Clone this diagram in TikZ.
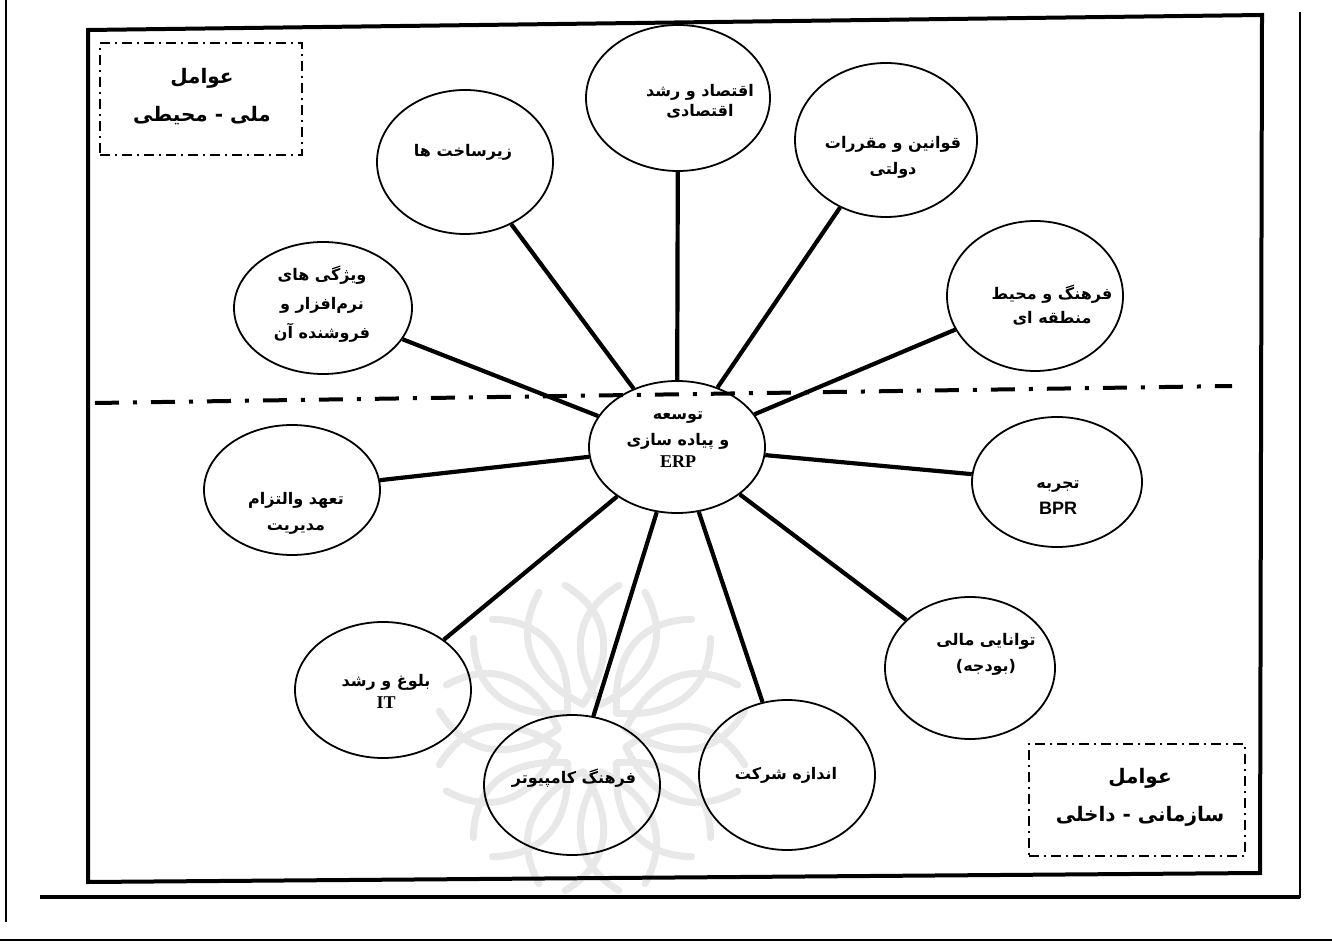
\documentclass[tikz,border=0pt]{standalone}
\usepackage{fontspec}
\setmainfont{Liberation Serif}
\newfontfamily\ar[Script=Arabic]{DejaVu Sans}
\newfontfamily\lsans{Liberation Sans}
\TeXXeTstate=1
\usetikzlibrary{shapes.geometric,calc}
\newcommand{\rl}[1]{\beginR #1\endR}
\tikzset{
  circ/.style={ellipse, draw, line width=0.9pt, inner sep=0pt},
  conn/.style={line width=2.1pt},
  txt/.style={font=\ar\bfseries\fontsize{8}{13}\selectfont, align=center, inner sep=0pt},
  head/.style={font=\ar\bfseries\fontsize{10}{19}\selectfont, align=center, inner sep=0pt},
  ddbox/.style={draw, line width=0.7pt, dash pattern=on 5pt off 2.5pt on 1pt off 2.5pt},
  divider/.style={line width=2pt, dash pattern=on 12pt off 7pt on 2pt off 7pt},
  frame/.style={line width=2pt},
  wm/.style={line width=3.5pt, black!9, line cap=round}
}
\begin{document}
\begin{tikzpicture}[x=0.5pt,y=-0.5pt]
\useasboundingbox (0,0) rectangle (1332,951);
% watermark
\coordinate (wc) at (592,738);
\foreach \a in {15,45,...,345}{
  \draw[wm] ($(wc)+(\a:35)$) .. controls ($(wc)+(\a+30:80)$) and ($(wc)+(\a+25:125)$) .. ($(wc)+(\a+5:155)$);
  \draw[wm] ($(wc)+(\a:35)$) .. controls ($(wc)+(\a-30:80)$) and ($(wc)+(\a-25:125)$) .. ($(wc)+(\a-5:155)$);
}
% frames
\draw[frame] (88,30) -- (1262,15) -- (1260,873) -- (88,882) -- cycle;
\draw[line width=0.6pt] (6,0) -- (6,922);
\draw[line width=0.6pt] (1300,12) -- (1300,898);
\draw[line width=2.4pt] (40,897) -- (1300,897);
\draw[line width=0.6pt] (0,940) -- (1332,940);
% heading boxes
\node[ddbox, minimum width=101pt, minimum height=56pt] (hb1) at (201,99) {};
\node[head] (h1) at (202,97) {\rl{عوامل}\\\rl{ملی - محیطی}};
\node[ddbox, minimum width=108pt, minimum height=56pt] (hb2) at (1137,800) {};
\node[head] (h2) at (1140,797) {\rl{عوامل}\\\rl{سازمانی - داخلی}};
% circles
\node[circ, minimum width=88pt, minimum height=66pt] (erp) at (677,447) {};
\node[circ, minimum width=88pt, minimum height=72pt] (n1) at (465,162) {};
\node[circ, minimum width=92pt, minimum height=73pt] (n2) at (678,98) {};
\node[circ, minimum width=91pt, minimum height=77pt] (n3) at (886,140) {};
\node[circ, minimum width=88pt, minimum height=75pt] (n4) at (1035,296) {};
\node[circ, minimum width=89pt, minimum height=66pt] (n5) at (323,308) {};
\node[circ, minimum width=85pt, minimum height=65pt] (n6) at (1057,482) {};
\node[circ, minimum width=88pt, minimum height=65pt] (n7) at (292,490) {};
\node[circ, minimum width=85pt, minimum height=71pt] (n8) at (970,668) {};
\node[circ, minimum width=88pt, minimum height=68pt] (n9) at (383,690) {};
\node[circ, minimum width=88pt, minimum height=70pt] (n10) at (572,785) {};
\node[circ, minimum width=88pt, minimum height=75pt] (n11) at (787,775) {};
% connectors
\foreach \n in {n1,n2,n3,n4,n5,n6,n7,n8,n9,n10,n11}{\draw[conn] (erp) -- (\n);}
% divider
\coordinate (dl) at (95,403);
\coordinate (dr) at (1232,386);
\draw[divider] (dl) -- (dr);
% texts
\node[txt, font=\ar\bfseries\fontsize{8}{11}\selectfont] (te) at (678,440) {\rl{توسعه}\\[2pt]\rl{و پیاده سازی}\\{\rmfamily\bfseries\fontsize{9}{11}\selectfont ERP}};
\node[txt] (t1) at (463,152) {\rl{زیرساخت ها}};
\node[txt, font=\ar\bfseries\fontsize{8}{10}\selectfont] (t2) at (700,101) {\rl{اقتصاد و رشد}\\\rl{اقتصادی}};
\node[txt] (t3) at (893,157) {\rl{قوانین و مقررات}\\\rl{دولتی}};
\node[txt, font=\ar\bfseries\fontsize{8}{12}\selectfont] (t4) at (1052,305) {\rl{فرهنگ و محیط}\\\rl{منطقه ای}};
\node[txt, font=\ar\bfseries\fontsize{8}{14.5}\selectfont] (t5) at (322,304) {\rl{ویژگی های}\\\rl{نرم‌افزار و}\\\rl{فروشنده آن}};
\node[txt] (t6) at (1058,498) {\rl{تجربه}\\{\lsans\bfseries\fontsize{9}{13}\selectfont BPR}};
\node[txt] (t7) at (296,513) {\rl{تعهد والتزام}\\\rl{مدیریت}};
\node[txt] (t8) at (986,654) {\rl{توانایی مالی}\\\rl{(بودجه)}};
\node[txt, font=\ar\bfseries\fontsize{8}{11}\selectfont] (t9) at (386,691) {\rl{بلوغ و رشد}\\{\rmfamily\bfseries\fontsize{9}{11}\selectfont IT}};
\node[txt] (t10) at (574,778) {\rl{فرهنگ کامپیوتر}};
\node[txt] (t11) at (786,775) {\rl{اندازه شرکت}};
\end{tikzpicture}
\end{document}
